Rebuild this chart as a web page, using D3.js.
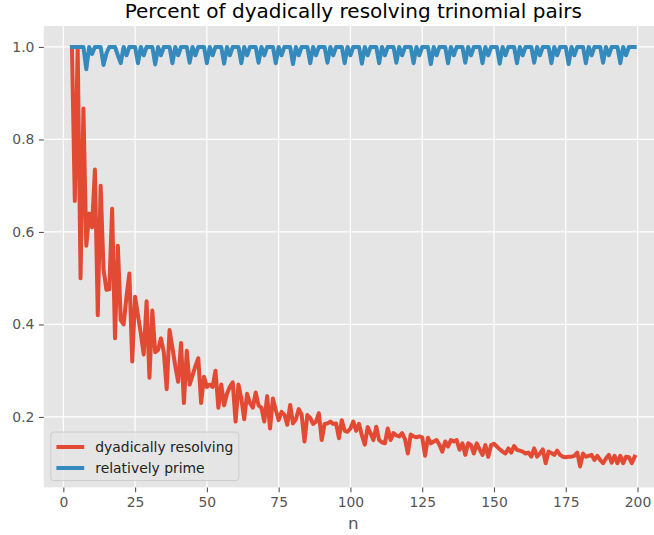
<!DOCTYPE html>
<html>
<head>
<meta charset="utf-8">
<script src="https://cdn.jsdelivr.net/npm/d3@7"></script>
<style>
  body { margin: 0; background: #fff; }
  svg text { font-family: "DejaVu Sans", sans-serif; }
</style>
</head>
<body>
<svg id="chart"></svg>
<script>
// n runs from nFirst upward, one value per n
const nFirst = 3;

const dyadic = [
  1.0, 0.667, 1.0, 0.5, 0.867, 0.57, 0.64, 0.61, 0.735, 0.42,
  0.70, 0.52, 0.475, 0.476, 0.65, 0.37, 0.57, 0.41, 0.40, 0.46,
  0.51, 0.32, 0.46, 0.42, 0.38, 0.335, 0.45, 0.285, 0.43, 0.34,
  0.345, 0.37, 0.34, 0.26, 0.388, 0.35, 0.31, 0.276, 0.36, 0.23,
  0.343, 0.27, 0.29, 0.31, 0.327, 0.23, 0.287, 0.265, 0.27, 0.265,
  0.30, 0.22, 0.27, 0.225, 0.25, 0.265, 0.275, 0.19, 0.27, 0.24,
  0.195, 0.25, 0.23, 0.22, 0.253, 0.225, 0.22, 0.19, 0.245, 0.175,
  0.24, 0.215, 0.193, 0.211, 0.205, 0.183, 0.226, 0.186, 0.195, 0.217,
  0.205, 0.147, 0.204, 0.198, 0.185, 0.19, 0.208, 0.15, 0.185, 0.186,
  0.19, 0.185, 0.186, 0.154, 0.193, 0.17, 0.168, 0.175, 0.19, 0.17,
  0.185, 0.16, 0.14, 0.178, 0.165, 0.15, 0.179, 0.15, 0.145, 0.143,
  0.175, 0.15, 0.165, 0.16, 0.158, 0.165, 0.152, 0.121, 0.162, 0.158,
  0.156, 0.158, 0.156, 0.116, 0.155, 0.143, 0.147, 0.15, 0.14, 0.125,
  0.147, 0.136, 0.15, 0.147, 0.15, 0.129, 0.143, 0.118, 0.143, 0.139,
  0.121, 0.143, 0.13, 0.118, 0.139, 0.114, 0.139, 0.142, 0.136, 0.13,
  0.125, 0.121, 0.132, 0.123, 0.137, 0.129, 0.127, 0.125, 0.121, 0.123,
  0.114, 0.132, 0.114, 0.121, 0.13, 0.1, 0.125, 0.122, 0.118, 0.127,
  0.118, 0.114, 0.113, 0.114, 0.114, 0.116, 0.123, 0.093, 0.121, 0.114,
  0.116, 0.118, 0.107, 0.116, 0.107, 0.1, 0.11, 0.118, 0.101, 0.116,
  0.1, 0.116, 0.1, 0.114, 0.113, 0.1, 0.114
];

const coprime = [
  1, 1, 1, 1, 1, 0.952,
  1, 0.985, 1, 1, 1, 0.961,
  0.986, 1, 1, 1, 0.982, 0.965,
  1, 0.982, 1, 1, 1, 0.965,
  1, 0.982, 1, 1, 1, 0.962,
  1, 0.982, 1, 1, 1, 0.965,
  1, 0.982, 1, 1, 1, 0.966,
  1, 0.982, 1, 1, 1, 0.965,
  1, 0.982, 1, 1, 1, 0.964,
  1, 0.982, 1, 1, 1, 0.965,
  1, 0.982, 1, 1, 1, 0.966,
  1, 0.982, 1, 1, 1, 0.965,
  1, 0.982, 1, 1, 1, 0.963,
  1, 0.982, 1, 1, 1, 0.965,
  1, 0.982, 1, 1, 1, 0.966,
  1, 0.982, 1, 1, 1, 0.965,
  1, 0.982, 1, 1, 1, 0.964,
  1, 0.982, 1, 1, 1, 0.965,
  1, 0.982, 1, 1, 1, 0.966,
  1, 0.982, 1, 1, 1, 0.965,
  1, 0.982, 1, 1, 1, 0.963,
  1, 0.982, 1, 1, 1, 0.965,
  1, 0.982, 1, 1, 1, 0.966,
  1, 0.982, 1, 1, 1, 0.965,
  1, 0.982, 1, 1, 1, 0.964,
  1, 0.982, 1, 1, 1, 0.965,
  1, 0.982, 1, 1, 1, 0.966,
  1, 0.982, 1, 1, 1, 0.965,
  1, 0.982, 1, 1, 1, 0.963,
  1, 0.982, 1, 1, 1, 0.965,
  1, 0.982, 1, 1, 1, 0.966,
  1, 0.982, 1, 1, 1, 0.965,
  1, 0.982, 1, 1, 1
];

const seriesNames = ["dyadically resolving", "relatively prime"];
const seriesColors = ["#E24A33", "#348ABD"];
const xTicks = [0, 25, 50, 75, 100, 125, 150, 175, 200];
const yTicks = [0.2, 0.4, 0.6, 0.8, 1.0];
const chartTitle = "Percent of dyadically resolving trinomial pairs";
const xLabel = "n";

function main() {
  const width = 654, height = 535;
  // axes box in figure pixels (the right part runs off the picture)
  const plot = {left: 43.8, top: 26, width: 619, height: 461.4};

  const series = [dyadic, coprime].map((vals, i) => ({
    name: seriesNames[i],
    color: seriesColors[i],
    points: vals.map((v, j) => ({n: nFirst + j, v: v}))
  }));

  const allPts = series.flatMap(s => s.points);
  // matplotlib style 5% margins around the data
  const pad = (ext) => { const d = (ext[1] - ext[0]) * 0.05; return [ext[0] - d, ext[1] + d]; };

  const x = d3.scaleLinear()
    .domain(pad(d3.extent(allPts, d => d.n)))
    .range([plot.left, plot.left + plot.width]);
  const y = d3.scaleLinear()
    .domain(pad(d3.extent(allPts, d => d.v)))
    .range([plot.top + plot.height, plot.top]);

  const svg = d3.select("#chart")
    .attr("width", width)
    .attr("height", height);

  svg.append("rect")
    .attr("x", plot.left).attr("y", plot.top)
    .attr("width", plot.width).attr("height", plot.height)
    .attr("fill", "#E5E5E5");

  svg.append("clipPath").attr("id", "clip")
    .append("rect")
    .attr("x", plot.left).attr("y", plot.top)
    .attr("width", plot.width).attr("height", plot.height);

  // grid
  const grid = svg.append("g").attr("stroke", "#fff").attr("stroke-width", 1.2);
  grid.selectAll("line.gx")
    .data(xTicks).enter()
    .append("line")
      .attr("x1", d => x(d)).attr("x2", d => x(d))
      .attr("y1", plot.top).attr("y2", plot.top + plot.height);
  grid.selectAll("line.gy")
    .data(yTicks).enter()
    .append("line")
      .attr("x1", plot.left).attr("x2", plot.left + plot.width)
      .attr("y1", d => y(d)).attr("y2", d => y(d));

  // axes
  const xAxis = d3.axisBottom(x)
    .tickValues(xTicks)
    .tickFormat(d3.format("d"))
    .tickSizeInner(4.9).tickSizeOuter(0).tickPadding(4.5);
  const yAxis = d3.axisLeft(y)
    .tickValues(yTicks)
    .tickFormat(d3.format(".1f"))
    .tickSizeInner(4.9).tickSizeOuter(0).tickPadding(4.5);

  const gx = svg.append("g")
    .attr("transform", `translate(0, ${plot.top + plot.height})`)
    .call(xAxis);
  const gy = svg.append("g")
    .attr("transform", `translate(${plot.left}, 0)`)
    .call(yAxis);
  [gx, gy].forEach(g => {
    g.select(".domain").remove();
    g.selectAll(".tick line").attr("stroke", "#555555").attr("stroke-width", 1.1);
    g.selectAll(".tick text")
      .attr("fill", "#555555")
      .attr("font-size", "13.9px")
      .attr("font-family", "DejaVu Sans");
  });

  // lines
  const lineMaker = d3.line().x(d => x(d.n)).y(d => y(d.v));
  svg.append("g")
    .attr("clip-path", "url(#clip)")
    .selectAll("path")
    .data(series).enter()
    .append("path")
      .attr("d", d => lineMaker(d.points))
      .attr("fill", "none")
      .attr("stroke", d => d.color)
      .attr("stroke-width", 4)
      .attr("stroke-linejoin", "round")
      .attr("stroke-linecap", "square");

  // title + label
  svg.append("text")
    .attr("x", plot.left + plot.width / 2)
    .attr("y", 18)
    .attr("text-anchor", "middle")
    .attr("font-size", "20px")
    .attr("fill", "#000")
    .text(chartTitle);

  svg.append("text")
    .attr("x", plot.left + plot.width / 2)
    .attr("y", 529)
    .attr("text-anchor", "middle")
    .attr("font-size", "16.7px")
    .attr("fill", "#555555")
    .text(xLabel);

  // legend
  const leg = svg.append("g");
  const legBox = leg.append("rect")
    .attr("x", 50.8).attr("y", 432)
    .attr("height", 48.6)
    .attr("rx", 3)
    .attr("fill", "#E5E5E5")
    .attr("fill-opacity", 0.8)
    .attr("stroke", "#cccccc")
    .attr("stroke-width", 1);

  const rows = leg.selectAll("g.row")
    .data(series).enter()
    .append("g")
      .attr("transform", (d, i) => `translate(0, ${447 + i * 21})`);
  rows.append("line")
    .attr("x1", 56.4).attr("x2", 84.2)
    .attr("stroke", d => d.color)
    .attr("stroke-width", 4);
  rows.append("text")
    .attr("x", 95.3)
    .attr("dy", "0.35em")
    .attr("font-size", "13.9px")
    .attr("fill", "#222")
    .text(d => d.name);

  let maxW = d3.max(rows.selectAll("text").nodes(), n => n.getComputedTextLength());
  legBox.attr("width", 95.3 + maxW + 5.6 - 50.8);
}

window.addEventListener("load", main);
</script>
</body>
</html>
